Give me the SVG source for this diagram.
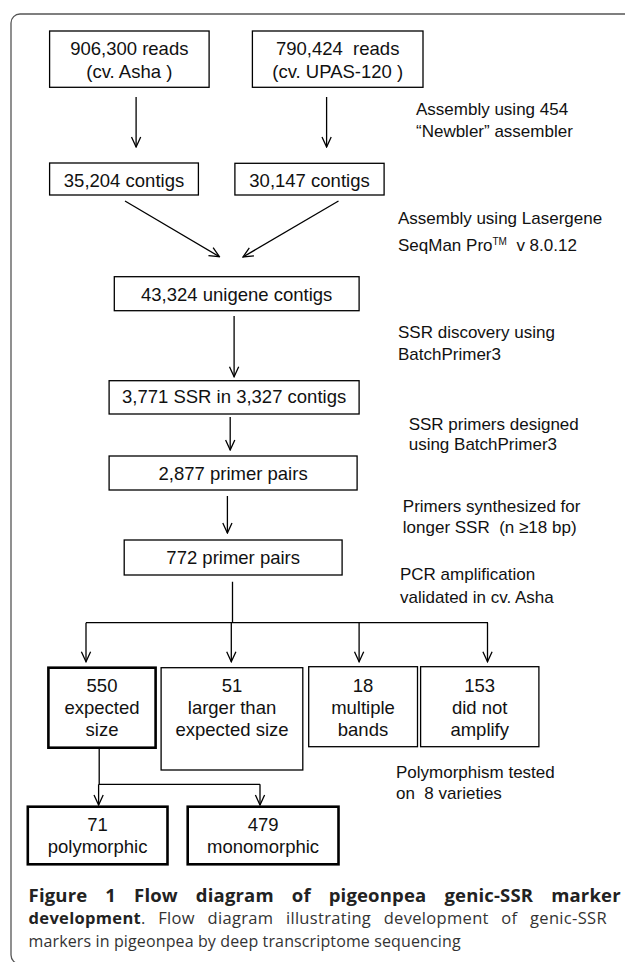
<svg xmlns="http://www.w3.org/2000/svg" width="625" height="962" viewBox="0 0 625 962">
<defs>
<marker id="ah" viewBox="-11 -6 12 12" refX="0" refY="0" markerWidth="12" markerHeight="12" markerUnits="userSpaceOnUse" orient="auto">
<path d="M-10,-4.6 L0,0 L-10,4.6" fill="none" stroke="#000" stroke-width="1.3"/>
</marker>
<style>
.box{fill:#fff;stroke:#000;stroke-width:1.3}
.thick{stroke-width:2.6}
.bt{font-family:"Liberation Sans",Arial,sans-serif;font-size:18.5px;fill:#111;text-anchor:middle;white-space:pre}
.lb{font-family:"Liberation Sans",Arial,sans-serif;font-size:17px;fill:#111;white-space:pre}
.cn{fill:none;stroke:#000;stroke-width:1.3}
.cap{font-family:"Open Sans","Liberation Sans",sans-serif;font-size:16.5px;fill:#333}
.capb{font-weight:bold;fill:#222}
.c1{font-size:18.5px;word-spacing:13px}
.c2{word-spacing:8px}
.c3{font-size:16px}
</style>
</defs>
<rect x="11" y="14" width="700" height="950" rx="9" fill="#fff" stroke="#555" stroke-width="1.3"/>
<g id="connectors">
<line class="cn" x1="136.1" y1="97" x2="136.1" y2="147" marker-end="url(#ah)"/>
<line class="cn" x1="326.6" y1="97" x2="326.6" y2="147" marker-end="url(#ah)"/>
<line class="cn" x1="125" y1="201" x2="219.4" y2="256.7" marker-end="url(#ah)"/>
<line class="cn" x1="338.5" y1="201" x2="243" y2="257" marker-end="url(#ah)"/>
<line class="cn" x1="234.1" y1="316" x2="234.1" y2="376.7" marker-end="url(#ah)"/>
<line class="cn" x1="230.2" y1="417" x2="230.2" y2="450" marker-end="url(#ah)"/>
<line class="cn" x1="227.4" y1="496" x2="227.4" y2="533" marker-end="url(#ah)"/>
<path class="cn" d="M232.5,581.7 V622.7 M86,622.7 H488"/>
<line class="cn" x1="86" y1="622.7" x2="86" y2="661.7" marker-end="url(#ah)"/>
<line class="cn" x1="231.3" y1="622.7" x2="231.3" y2="661.7" marker-end="url(#ah)"/>
<line class="cn" x1="359.1" y1="622.7" x2="359.1" y2="661.7" marker-end="url(#ah)"/>
<line class="cn" x1="487.5" y1="622.7" x2="487.5" y2="661.7" marker-end="url(#ah)"/>
<path class="cn" d="M99.2,749 V784.3 M98.6,784.3 H260" stroke-width="1.6"/>
<line class="cn" x1="98.6" y1="784.3" x2="98.6" y2="805" marker-end="url(#ah)"/>
<line class="cn" x1="260" y1="784.3" x2="260" y2="805" marker-end="url(#ah)"/>
</g>
<g id="n1"><rect class="box" x="49.6" y="31" width="159.5" height="56.3"/><text class="bt" x="129.3" y="55">906,300 reads</text><text class="bt" x="129.3" y="78">(cv. Asha )</text></g>
<g id="n2"><rect class="box" x="252.4" y="31" width="170.6" height="56.3"/><text class="bt" x="337.7" y="55">790,424  reads</text><text class="bt" x="337.7" y="78">(cv. UPAS-120 )</text></g>
<g id="n3"><rect class="box" x="49.6" y="163" width="148.8" height="32"/><text class="bt" x="124" y="186.5">35,204 contigs</text></g>
<g id="n4"><rect class="box" x="234.9" y="163.3" width="149.2" height="31.7"/><text class="bt" x="309.5" y="186.5">30,147 contigs</text></g>
<g id="n5"><rect class="box" x="114.3" y="276.7" width="244.8" height="34"/><text class="bt" x="236.7" y="301">43,324 unigene contigs</text></g>
<g id="n6"><rect class="box" x="109.1" y="380.7" width="250" height="33.3"/><text class="bt" x="234.1" y="403">3,771 SSR in 3,327 contigs</text></g>
<g id="n7"><rect class="box" x="109.1" y="456" width="248" height="34"/><text class="bt" x="233.1" y="480">2,877 primer pairs</text></g>
<g id="n8"><rect class="box" x="124.2" y="540" width="217.9" height="35"/><text class="bt" x="233.2" y="564">772 primer pairs</text></g>
<g id="n9"><rect class="box thick" x="48.4" y="667.7" width="107.2" height="80"/><text class="bt" x="102" y="691.7">550</text><text class="bt" x="102" y="714">expected</text><text class="bt" x="102" y="736">size</text></g>
<g id="n10"><rect class="box" x="161.1" y="667.7" width="141.7" height="102.3"/><text class="bt" x="232" y="691.7">51</text><text class="bt" x="232" y="714">larger than</text><text class="bt" x="232" y="736">expected size</text></g>
<g id="n11"><rect class="box" x="308.7" y="666.7" width="108.8" height="80"/><text class="bt" x="363" y="691.7">18</text><text class="bt" x="363" y="714">multiple</text><text class="bt" x="363" y="736">bands</text></g>
<g id="n12"><rect class="box" x="420.6" y="666.7" width="118.3" height="80"/><text class="bt" x="479.7" y="691.7">153</text><text class="bt" x="479.7" y="714">did not</text><text class="bt" x="479.7" y="736">amplify</text></g>
<g id="n13"><rect class="box thick" x="27.8" y="806.7" width="139.7" height="57.6"/><text class="bt" x="97.6" y="830.7">71</text><text class="bt" x="97.6" y="853">polymorphic</text></g>
<g id="n14"><rect class="box thick" x="187.7" y="806.7" width="150.8" height="57.6"/><text class="bt" x="263.1" y="830.7">479</text><text class="bt" x="263.1" y="853">monomorphic</text></g>
<g id="labels">
<text class="lb" x="416" y="115">Assembly using 454</text>
<text class="lb" x="416" y="137">“Newbler” assembler</text>
<text class="lb" x="398" y="224">Assembly using Lasergene</text>
<text class="lb" x="398" y="251">SeqMan Pro<tspan font-size="10" dy="-6">TM</tspan><tspan dy="6">  v 8.0.12</tspan></text>
<text class="lb" x="398" y="337.7">SSR discovery using</text>
<text class="lb" x="398" y="360">BatchPrimer3</text>
<text class="lb" x="408.7" y="430">SSR primers designed</text>
<text class="lb" x="408.7" y="449.5">using BatchPrimer3</text>
<text class="lb" x="402.8" y="511.7">Primers synthesized for</text>
<text class="lb" x="402.8" y="533">longer SSR  (n ≥18 bp)</text>
<text class="lb" x="400" y="580">PCR amplification</text>
<text class="lb" x="400" y="602.7">validated in cv. Asha</text>
<text class="lb" x="396" y="778.3">Polymorphism tested</text>
<text class="lb" x="396" y="799.3">on  8 varieties</text>
</g>
<g id="caption">
<text class="cap capb c1" x="28.6" y="901.7" textLength="592" lengthAdjust="spacing">Figure 1 Flow diagram of pigeonpea genic-SSR marker</text>
<text class="cap c2" x="28.6" y="924" textLength="578" lengthAdjust="spacing"><tspan class="capb">development</tspan>. Flow diagram illustrating development of genic-SSR</text>
<text class="cap c3" x="28.6" y="947.3" textLength="432" lengthAdjust="spacing">markers in pigeonpea by deep transcriptome sequencing</text>
</g>
</svg>
